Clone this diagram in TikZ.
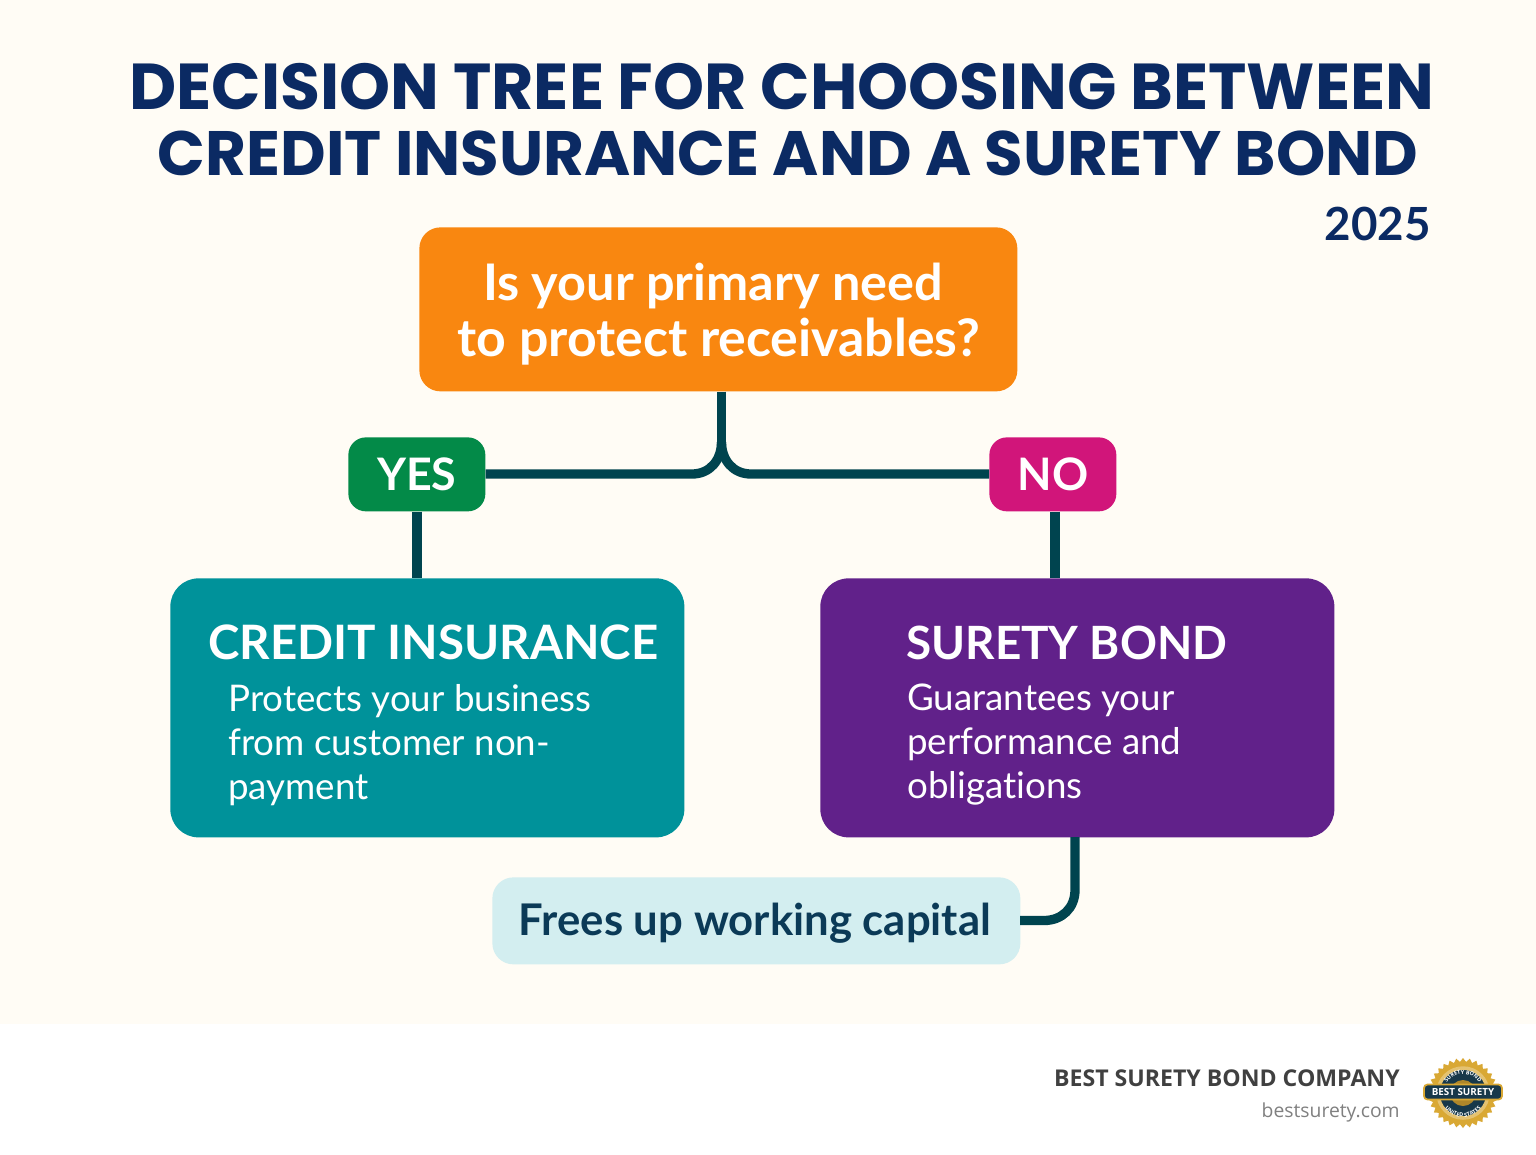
\documentclass[tikz,border=0pt]{standalone}
\usepackage{fontspec}
\usepackage{xcolor}
\usetikzlibrary{shapes.geometric,decorations.text}
\setmainfont{Lato}[Ligatures=NoCommon]
\newfontfamily\titlefont{Poppins}
\newfontfamily\footfont{Open Sans}

\definecolor{creamBack}{HTML}{FFFCF5}
\definecolor{navyText}{HTML}{0B2A63}
\definecolor{orangeBox}{HTML}{F98710}
\definecolor{greenBox}{HTML}{038A48}
\definecolor{pinkBox}{HTML}{D1157A}
\definecolor{tealBox}{HTML}{00929A}
\definecolor{purpleBox}{HTML}{61218A}
\definecolor{paleBox}{HTML}{D3EEF0}
\definecolor{linkDark}{HTML}{00444F}
\definecolor{capitalText}{HTML}{0B3A57}
\definecolor{sealGold}{HTML}{D9A834}
\definecolor{sealDark}{HTML}{17384A}

\tikzset{
  box/.style={rectangle, rounded corners=16, anchor=north west, inner sep=0},
  tag/.style={box, rounded corners=10, text=white, text depth=0pt, font=\bfseries\fontsize{25.5}{30}\selectfont},
  link/.style={draw=linkDark, line width=5.3pt},
  head/.style={anchor=base west, inner sep=0, text=white, font=\bfseries\fontsize{27}{30}\selectfont},
  desc/.style={anchor=north west, text=white, align=left, inner sep=0, font=\fontsize{20.9}{25}\selectfont},
  titleline/.style={anchor=base, inner sep=0, text=navyText},
  footline/.style={anchor=base east, inner sep=0}
}

\begin{document}
\begin{tikzpicture}[x=0.02cm, y=-0.02cm]

\useasboundingbox (0,0) rectangle (1536,1154);

% Background

\fill[creamBack] (0,0) rectangle (1536,1024);
\fill[white] (0,1024) rectangle (1536,1154);

% Title

\node[titleline, font=\titlefont\bfseries\fontsize{36.95}{40}\selectfont] (TitleLine0) at (782,109) {DECISION TREE FOR CHOOSING BETWEEN};
\node[titleline, font=\titlefont\bfseries\fontsize{35.7}{40}\selectfont] (TitleLine1) at (788,175) {CREDIT INSURANCE AND A SURETY BOND};
\node[footline, text=navyText, font=\bfseries\fontsize{26}{30}\selectfont] (TitleYear) at (1431,240) {2025};

% Question

\node[box, rounded corners=12, fill=orangeBox, minimum width=598*0.02cm, minimum height=164*0.02cm] (Question) at (419,227) {};
\node[anchor=base, text=white, font=\bfseries\fontsize{28.7}{32}\selectfont] (QuestionLine0) at (713,300) {Is your primary need};
\node[anchor=base, text=white, font=\bfseries\fontsize{29.5}{32}\selectfont] (QuestionLine1) at (719,356) {to protect receivables?};

% Yes and No

\node[tag, fill=greenBox, minimum width=137*0.02cm, minimum height=74*0.02cm] (YesTag) at (348,437) {YES};
\node[tag, fill=pinkBox, minimum width=127*0.02cm, minimum height=74*0.02cm] (NoTag) at (989,437) {NO};

% Credit insurance

\node[box, fill=tealBox, minimum width=514*0.02cm, minimum height=259*0.02cm] (CreditBox) at (170,578) {};
\node[head] (CreditHead) at (208,659) {CREDIT INSURANCE};
\node[desc] (CreditText) at (228,684) {Protects your business\\from customer non-\\payment};

% Surety bond

\node[box, fill=purpleBox, minimum width=514*0.02cm, minimum height=259*0.02cm] (SuretyBox) at (820,578) {};
\node[head, font=\bfseries\fontsize{26.1}{30}\selectfont] (SuretyHead) at (906,659) {SURETY BOND};
\node[desc] (SuretyText) at (907,684) {Guarantees your\\performance and\\obligations};

% Working capital

\node[box, rounded corners=12, fill=paleBox, minimum width=528*0.02cm, minimum height=87*0.02cm] (CapitalBox) at (492,877) {};
\node[text=capitalText, font=\bfseries\fontsize{24.85}{30}\selectfont] (CapitalText) at (755,923) {Frees up working capital};

% Rows

\coordinate (Fork) at (721.5,442);
\coordinate (YesBend) at (692,474);
\coordinate (NoBend) at (751,474);
\coordinate (YesDrop) at (417,578);
\coordinate (NoDrop) at (1055,578);
\coordinate (SuretyOut) at (1075,837);
\coordinate (SuretyBend) at (1075,890);
\coordinate (CapitalBend) at (1044,920.5);
\coordinate (CapitalIn) at (1020,920.5);

\draw[link] (Question.south -| Fork) -- (Fork);
\draw[link] (YesTag.east |- YesBend) -- (YesBend) .. controls +(18,0) and +(0,18) .. (Fork);
\draw[link] (NoTag.west |- NoBend) -- (NoBend) .. controls +(-18,0) and +(0,18) .. (Fork);
\draw[link] (YesTag.south -| YesDrop) -- (YesDrop);
\draw[link] (NoTag.south -| NoDrop) -- (NoDrop);
\draw[link] (SuretyOut) -- (SuretyBend) .. controls +(0,18) and +(18,0) .. (CapitalBend) -- (CapitalIn);

% Footer

\node[footline, text=black!75, font=\footfont\bfseries\fontsize{13.15}{16}\selectfont] (FooterName) at (1400,1086) {BEST SURETY BOND COMPANY};
\node[footline, text=black!50, font=\footfont\fontsize{11}{14}\selectfont] (FooterSite) at (1400,1117) {bestsurety.com};

% Seal

\node[star, star points=32, star point ratio=1.12, fill=sealGold, minimum size=70*0.02cm, inner sep=0] (SealStar) at (1463,1093) {};
\node[circle, fill=sealDark, draw=sealGold!70!white, line width=2pt, minimum size=50*0.02cm, inner sep=0] (SealRing) at (1463,1093) {};
\node[circle, fill=sealGold!80!black, minimum size=26*0.02cm, inner sep=0] (SealCore) at (1463,1093) {};
\path[decorate, decoration={text along path, text align=center, text={|\footfont\bfseries\fontsize{3.1}{4}\selectfont\color{white}|SURETY BOND}}]
  (1444,1093) arc[start angle=-180, end angle=0, radius=19];
\path[decorate, decoration={text along path, text align=center, text={|\footfont\bfseries\fontsize{3.1}{4}\selectfont\color{white}|UNITED STATES}}]
  (1439,1093) arc[start angle=180, end angle=0, radius=24];
\node[rectangle, rounded corners=2, fill=sealDark, draw=sealGold, line width=1pt, minimum width=78*0.02cm, minimum height=15*0.02cm, inner sep=0, text=white, font=\footfont\bfseries\fontsize{5.6}{6}\selectfont] (SealBanner) at (1463,1092) {BEST SURETY};

\end{tikzpicture}
\end{document}
